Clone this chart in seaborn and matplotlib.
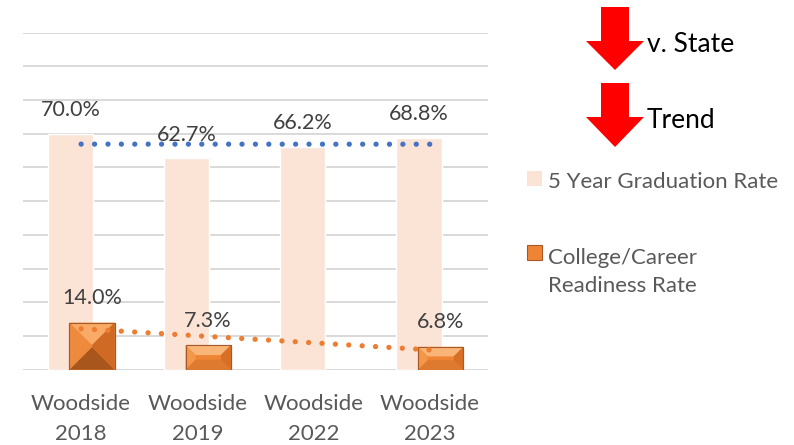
import numpy as np
import pandas as pd
import matplotlib
matplotlib.use("Agg")
import matplotlib.pyplot as plt
from matplotlib.patches import Polygon, Patch, Rectangle
from matplotlib.legend_handler import HandlerPatch
import seaborn as sns

# ---- data ----
categories = ["Woodside\n2018", "Woodside\n2019", "Woodside\n2022", "Woodside\n2023"]
grad_rate = [70.0, 62.7, 66.2, 68.8]
ccr_rate = [14.0, 7.3, np.nan, 6.8]
series_names = ["5 Year Graduation Rate", "College/Career\nReadiness Rate"]
yticks = list(range(0, 101, 10))

# ---- style ----
sns.set_style("white")
plt.rcParams["font.family"] = ["Lato", "DejaVu Sans"]

GRAD_C = "#FBE3D6"
CCR_C = "#EF8434"
CCR_EDGE = "#A8592A"
BLUE = "#4472C4"
ORANGE = "#ED7D31"
LABEL_C = "#404040"
TICK_C = "#595959"
GRID_C = "#D9D9D9"

W, H = 794, 445
fig = plt.figure(figsize=(W / 100, H / 100), dpi=100)
ax = fig.add_axes([23 / W, 1 - 369.7 / H, 465 / W, 337 / H])

BAR_W = 0.39
OFF = 0.093

df_grad = pd.DataFrame({"school": categories, "rate": grad_rate})
df_ccr = pd.DataFrame({"school": categories, "rate": ccr_rate}).dropna()

sns.barplot(data=df_grad, x="school", y="rate", order=categories, color=GRAD_C,
            saturation=1, width=BAR_W, errorbar=None, ax=ax, zorder=2)
sns.barplot(data=df_ccr, x="school", y="rate", order=categories, color=CCR_C,
            saturation=1, width=BAR_W, errorbar=None, ax=ax, zorder=3,
            edgecolor=CCR_EDGE, linewidth=0.8)

ax.set_xlim(-0.5, 3.5)
ax.set_ylim(0, 100)

# overlap the two series like Excel clustered bars with overlap
for cont, off in zip(ax.containers, (-OFF, OFF)):
    for p in cont.patches:
        c = p.get_x() + p.get_width() / 2
        p.set_x(c + off - BAR_W / 2)
        p.set_width(BAR_W)

# bevel facets on the college/career bars (derived from patch geometry)
ux = 4 / 465  # data units per pixel (x)
uy = 100 / 337  # data units per pixel (y)
for p in ax.containers[1].patches:
    x0, y0, w, h = p.get_x(), p.get_y(), p.get_width(), p.get_height()
    x1, y1 = x0 + w, y0 + h
    wp, hp = w / ux, h / uy
    if hp > 0.9 * wp:
        d = min(wp, hp) / 2 * 0.98
        top_c, bot_c, left_c, right_c = "#F8AA66", "#A9561D", "#EE8A3E", "#CF6A24"
    else:
        d = min(10, 0.42 * hp)
        top_c, bot_c, left_c, right_c = "#F9B577", "#DE7A30", "#F39748", "#D86F26"
    dx, dy = d * ux, d * uy
    faces = [
        ([(x0, y1), (x1, y1), (x1 - dx, y1 - dy), (x0 + dx, y1 - dy)], top_c),
        ([(x0, y0), (x1, y0), (x1 - dx, y0 + dy), (x0 + dx, y0 + dy)], bot_c),
        ([(x0, y0), (x0 + dx, y0 + dy), (x0 + dx, y1 - dy), (x0, y1)], left_c),
        ([(x1, y0), (x1 - dx, y0 + dy), (x1 - dx, y1 - dy), (x1, y1)], right_c),
    ]
    for pts, col in faces:
        ax.add_patch(Polygon(pts, closed=True, facecolor=col, edgecolor="none", zorder=3.5))
    ax.add_patch(Rectangle((x0, y0), w, h, facecolor="none", edgecolor=CCR_EDGE,
                           lw=0.8, zorder=3.6))

# data labels
for i, v in enumerate(grad_rate):
    ax.annotate(f"{v:.1f}%", (i - OFF, v), xytext=(0, 17), textcoords="offset points",
                ha="center", va="center", fontsize=15.5, color=LABEL_C, zorder=5)
for i, v in enumerate(ccr_rate):
    if np.isnan(v):
        continue
    ax.annotate(f"{v:.1f}%", (i + OFF, v), xytext=(0, 17.5), textcoords="offset points",
                ha="center", va="center", fontsize=15.5, color=LABEL_C, zorder=5)

# linear trendlines
def trend(vals, color):
    xs = np.arange(len(vals), dtype=float)
    ys = np.array(vals, dtype=float)
    m = ~np.isnan(ys)
    k, b = np.polyfit(xs[m], ys[m], 1)
    xe = np.array([0.0, len(vals) - 1.0])
    ax.plot(xe, k * xe + b, color=color, lw=3.8, linestyle=(0, (0.01, 2.53)),
            dash_capstyle="round", solid_capstyle="round", zorder=4)

trend(grad_rate, BLUE)
trend(ccr_rate, ORANGE)

# axes styling
ax.set_yticks(yticks)
ax.set_yticklabels([])
ax.yaxis.grid(True, color=GRID_C, lw=1.4)
ax.set_axisbelow(True)
ax.tick_params(axis="both", length=0)
ax.tick_params(axis="x", pad=17.5, labelsize=16, labelcolor=TICK_C)
for lab in ax.get_xticklabels():
    lab.set_linespacing(1.6)
for s in ax.spines.values():
    s.set_visible(False)
ax.set_xlabel("")
ax.set_ylabel("")

# legend: handle aligned with first text line for the two-line entry
class FirstLineHandler(HandlerPatch):
    def __init__(self, shift=0.0, **kw):
        super().__init__(**kw)
        self.shift = shift

    def create_artists(self, legend, orig_handle, xdescent, ydescent, width, height,
                       fontsize, trans):
        r = Rectangle((-xdescent, -ydescent + self.shift), width, height)
        self.update_prop(r, orig_handle, legend)
        r.set_transform(trans)
        return [r]

h_grad = Patch(facecolor=GRAD_C, edgecolor="none")
h_ccr = Patch(facecolor=CCR_C, edgecolor=CCR_EDGE, linewidth=0.8)
leg = fig.legend([h_grad, h_ccr], series_names, loc="upper left",
                 bbox_to_anchor=(527 / W, 1 - 172 / H),
                 frameon=False, fontsize=16, labelcolor=TICK_C, handlelength=0.68,
                 handleheight=0.68, handletextpad=0.25, labelspacing=2.5, borderpad=0,
                 borderaxespad=0,
                 handler_map={h_grad: FirstLineHandler(1.0),
                              h_ccr: FirstLineHandler(14.0)})
for t in leg.get_texts():
    t.set_linespacing(1.5)

# red down arrows with notes
def px(x, y):
    return (x / W, 1 - y / H)

def down_arrow(top, head, tip, cx=615, shaft=28, headw=58):
    pts = [px(cx - shaft / 2, top), px(cx + shaft / 2, top), px(cx + shaft / 2, head),
           px(cx + headw / 2, head), px(cx, tip), px(cx - headw / 2, head),
           px(cx - shaft / 2, head)]
    fig.add_artist(Polygon(pts, closed=True, facecolor="#FF0000", edgecolor="none",
                           transform=fig.transFigure))

down_arrow(7, 41, 70)
down_arrow(83, 117, 147)
fig.text(*px(647, 45), "v. State", fontsize=19, color="black", va="center", ha="left")
fig.text(*px(647, 121), "Trend", fontsize=19, color="black", va="center", ha="left")

fig.savefig("out.png", dpi=100)
